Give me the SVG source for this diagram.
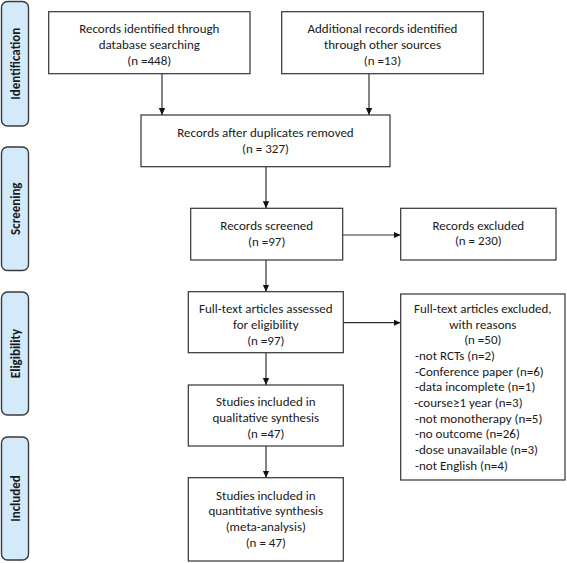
<svg xmlns="http://www.w3.org/2000/svg" width="567" height="563" viewBox="0 0 567 563">
<style>
.bg{fill:#ffffff}
.box{fill:#ffffff;stroke:#333333;stroke-width:1.2}
.pill{fill:#d3eafb;stroke:#3a3a3a;stroke-width:1.4}
.t{font-family:Carlito,Lato,"Liberation Sans",sans-serif;font-size:13px;fill:#1a1a1a;text-anchor:middle}
.tl{font-family:Carlito,Lato,"Liberation Sans",sans-serif;font-size:13px;fill:#1a1a1a;text-anchor:start}
.pt{font-family:Carlito,Lato,"Liberation Sans",sans-serif;font-size:13px;font-weight:bold;fill:#1a1a1a;text-anchor:middle}
.c{fill:none;stroke:#333333;stroke-width:1.2}
</style>
<defs>
<marker id="ah" markerWidth="8" markerHeight="8" refX="7" refY="4" orient="auto" markerUnits="userSpaceOnUse">
<path d="M0,0.8 L7,4 L0,7.2 Z" fill="#111111"/>
</marker>
</defs>
<rect class="bg" x="0" y="0" width="567" height="563"/>

<g id="phase-identification">
<rect class="pill" x="1.5" y="1.5" width="27" height="124.5" rx="6"/>
<text class="pt" transform="translate(19.5,63.7) rotate(-90)">Identification</text>
</g>
<g id="phase-screening">
<rect class="pill" x="1.5" y="147" width="27" height="123.5" rx="6"/>
<text class="pt" transform="translate(19.5,208.7) rotate(-90)">Screening</text>
</g>
<g id="phase-eligibility">
<rect class="pill" x="1.5" y="292" width="27" height="123" rx="6"/>
<text class="pt" transform="translate(19.5,353.5) rotate(-90)">Eligibility</text>
</g>
<g id="phase-included">
<rect class="pill" x="1.5" y="437" width="27" height="123" rx="6"/>
<text class="pt" transform="translate(19.5,498.5) rotate(-90)">Included</text>
</g>

<g id="connectors">
<path class="c" d="M162,73.7 V115" marker-end="url(#ah)"/>
<path class="c" d="M369,73.7 V115" marker-end="url(#ah)"/>
<path class="c" d="M266,166.7 V208.3" marker-end="url(#ah)"/>
<path class="c" d="M342.7,235 H400.7" marker-end="url(#ah)"/>
<path class="c" d="M266,260 V291.7" marker-end="url(#ah)"/>
<path class="c" d="M343.3,322.7 H400.5" marker-end="url(#ah)"/>
<path class="c" d="M266,352.7 V385" marker-end="url(#ah)"/>
<path class="c" d="M266,446 V477.7" marker-end="url(#ah)"/>
</g>

<g id="db-search">
<rect class="box" x="48.7" y="11.7" width="201.3" height="62"/>
<text class="t" x="149.3" y="33">Records identified through</text>
<text class="t" x="149.3" y="48.7">database searching</text>
<text class="t" x="149.3" y="64.8">(n =448)</text>
</g>
<g id="other-sources">
<rect class="box" x="281.7" y="11.7" width="201.6" height="62"/>
<text class="t" x="382.5" y="33">Additional records identified</text>
<text class="t" x="382.5" y="48.7">through other sources</text>
<text class="t" x="382.5" y="64.8">(n =13)</text>
</g>
<g id="dup-removed">
<rect class="box" x="141" y="115" width="249" height="51.7"/>
<text class="t" x="265.5" y="136.8">Records after duplicates removed</text>
<text class="t" x="265.5" y="152.8">(n = 327)</text>
</g>
<g id="screened">
<rect class="box" x="190.7" y="208.3" width="152" height="51.7"/>
<text class="t" x="266.7" y="229.5">Records screened</text>
<text class="t" x="266.7" y="245.8">(n =97)</text>
</g>
<g id="rec-excluded">
<rect class="box" x="400.7" y="208.3" width="155.3" height="51.7"/>
<text class="t" x="478.3" y="229.5">Records excluded</text>
<text class="t" x="478.3" y="245.3">(n = 230)</text>
</g>
<g id="fulltext-assessed">
<rect class="box" x="188.3" y="291.7" width="155" height="61"/>
<text class="t" x="265.8" y="312.8">Full-text articles assessed</text>
<text class="t" x="265.8" y="328.5">for eligibility</text>
<text class="t" x="265.8" y="344.5">(n =97)</text>
</g>
<g id="fulltext-excluded">
<rect class="box" x="400.7" y="294" width="164.3" height="186"/>
<text class="t" x="482.8" y="312.8">Full-text articles excluded,</text>
<text class="t" x="482.8" y="328.5">with reasons</text>
<text class="t" x="482.8" y="344.2">(n =50)</text>
<text class="tl" x="415" y="359.9">-not RCTs (n=2)</text>
<text class="tl" x="415" y="375.6">-Conference paper (n=6)</text>
<text class="tl" x="415" y="391.3">-data incomplete (n=1)</text>
<text class="tl" x="414" y="407">-course≥1 year (n=3)</text>
<text class="tl" x="415" y="422.7">-not monotherapy (n=5)</text>
<text class="tl" x="415" y="438.4">-no outcome (n=26)</text>
<text class="tl" x="415" y="454.1">-dose unavailable (n=3)</text>
<text class="tl" x="415" y="469.8">-not English (n=4)</text>
</g>
<g id="qualitative">
<rect class="box" x="188.3" y="385" width="155" height="61"/>
<text class="t" x="265.8" y="406">Studies included in</text>
<text class="t" x="265.8" y="421.7">qualitative synthesis</text>
<text class="t" x="265.8" y="437.5">(n =47)</text>
</g>
<g id="quantitative">
<rect class="box" x="188.3" y="477.7" width="155" height="83.3"/>
<text class="t" x="265.8" y="499.5">Studies included in</text>
<text class="t" x="265.8" y="515.3">quantitative synthesis</text>
<text class="t" x="265.8" y="531">(meta-analysis)</text>
<text class="t" x="265.8" y="546.5">(n = 47)</text>
</g>
</svg>
